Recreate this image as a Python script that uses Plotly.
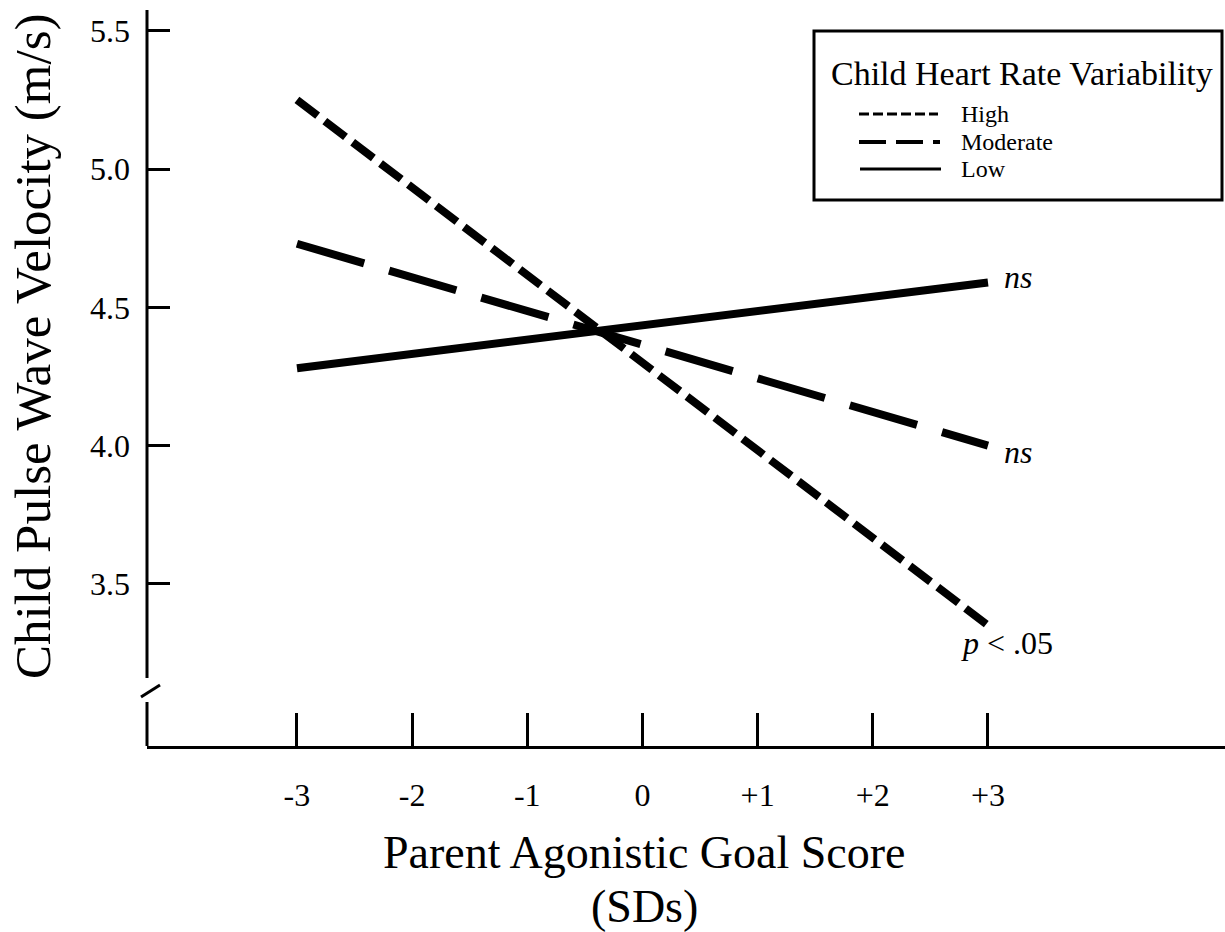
import plotly.graph_objects as go

# Parent agonistic goal score (SD units) and simple-slope predictions
x_sd = [-3, 3]
x_tick_vals = [-3, -2, -1, 0, 1, 2, 3]
x_tick_text = ["-3", "-2", "-1", "0", "+1", "+2", "+3"]
y_tick_vals = [3.5, 4.0, 4.5, 5.0, 5.5]
y_tick_text = ["3.5", "4.0", "4.5", "5.0", "5.5"]

hrv_high = [5.25, 3.35]
hrv_moderate = [4.73, 4.00]
hrv_low = [4.28, 4.59]

FONT = "Liberation Serif, Times New Roman, serif"

# figure geometry (pixels)
W, H = 1225, 932
L, R, T, B = 147, 0, 10, 186
PW, PH = W - L - R, H - T - B

X_RANGE = [-4.302, 5.058]
Y_RANGE = [2.914, 5.575]


def px(xp):
    return (xp - L) / PW


def py(yp):
    return (H - B - yp) / PH


fig = go.Figure()

series = [
    ("High", hrv_high, "26px,9px"),
    ("Moderate", hrv_moderate, "70px,26px"),
    ("Low", hrv_low, "solid"),
]
for name, vals, dash in series:
    fig.add_trace(go.Scatter(
        x=x_sd, y=vals, mode="lines", name=name,
        line=dict(color="black", width=8, dash=dash),
        showlegend=False, hoverinfo="skip",
    ))

shapes = []
# y axis with a break near the bottom
shapes.append(dict(type="line", xref="paper", yref="paper",
                   x0=0, x1=0, y0=py(678), y1=1,
                   line=dict(color="black", width=3)))
shapes.append(dict(type="line", xref="paper", yref="paper",
                   x0=0, x1=0, y0=0, y1=py(702),
                   line=dict(color="black", width=3)))
shapes.append(dict(type="line", xref="paper", yref="paper",
                   x0=px(141), x1=px(160), y0=py(697), y1=py(685),
                   line=dict(color="black", width=3)))

# legend box
shapes.append(dict(type="rect", xref="paper", yref="paper",
                   x0=px(814), x1=px(1222), y0=py(200), y1=py(31),
                   line=dict(color="black", width=3), fillcolor="white",
                   layer="below"))
legend_rows = [
    ("High", 114, "10px,4px", 3, 859, 938),
    ("Moderate", 142, "27px,10px", 4, 859, 940),
    ("Low", 169, "solid", 3, 860, 941),
]
annotations = []
for label, yrow, dash, lw, xa, xb in legend_rows:
    shapes.append(dict(type="line", xref="paper", yref="paper",
                       x0=px(xa), x1=px(xb), y0=py(yrow), y1=py(yrow),
                       line=dict(color="black", width=lw, dash=dash)))
    annotations.append(dict(xref="paper", yref="paper", x=px(960), y=py(yrow),
                            xanchor="left", yanchor="middle", showarrow=False,
                            borderpad=0,
                            text=label, font=dict(family=FONT, size=24, color="black")))

annotations.append(dict(xref="paper", yref="paper", x=px(1022), y=py(73),
                        xanchor="center", yanchor="middle", showarrow=False,
                        text="Child Heart Rate Variability",
                        font=dict(family=FONT, size=34, color="black")))

# slope significance notes at the right end of each line
note_pos = [
    (hrv_low[1], 14, 5),
    (hrv_moderate[1], 14, -6),
    (hrv_high[1], -29, -18),
]
note_text = ["<i>ns</i>", "<i>ns</i>", "<i>p</i> &lt; .05"]
for (yv, xs, ys), txt in zip(note_pos, note_text):
    annotations.append(dict(x=x_sd[1], y=yv, xref="x", yref="y",
                            xanchor="left", yanchor="middle", xshift=xs, yshift=ys,
                            showarrow=False, text=txt,
                            font=dict(family=FONT, size=32, color="black")))

# axis titles
annotations.append(dict(xref="paper", yref="paper", x=px(33), y=py(347),
                        xanchor="center", yanchor="middle", showarrow=False,
                        textangle=-90, text="Child Pulse Wave Velocity (m/s)",
                        font=dict(family=FONT, size=51, color="black")))
for line_text, yc in [("Parent Agonistic Goal Score", 852), ("(SDs)", 906)]:
    annotations.append(dict(xref="paper", yref="paper", x=px(644), y=py(yc),
                            xanchor="center", yanchor="middle", showarrow=False,
                            text=line_text,
                            font=dict(family=FONT, size=46, color="black")))

fig.update_layout(
    width=W, height=H,
    margin=dict(l=L, r=R, t=T, b=B, pad=0),
    paper_bgcolor="white", plot_bgcolor="white",
    showlegend=False,
    shapes=shapes, annotations=annotations,
    xaxis=dict(range=X_RANGE, showgrid=False, zeroline=False,
               showline=True, linecolor="black", linewidth=3,
               ticks="inside", ticklen=33, tickwidth=3, tickcolor="black",
               tickvals=x_tick_vals, ticktext=x_tick_text,
               ticklabelstandoff=19,
               tickfont=dict(family=FONT, size=32, color="black")),
    yaxis=dict(range=Y_RANGE, showgrid=False, zeroline=False,
               showline=False,
               ticks="inside", ticklen=23, tickwidth=3, tickcolor="black",
               tickvals=y_tick_vals, ticktext=y_tick_text,
               ticklabelstandoff=16,
               tickfont=dict(family=FONT, size=32, color="black")),
)

fig.write_html("out.html")
